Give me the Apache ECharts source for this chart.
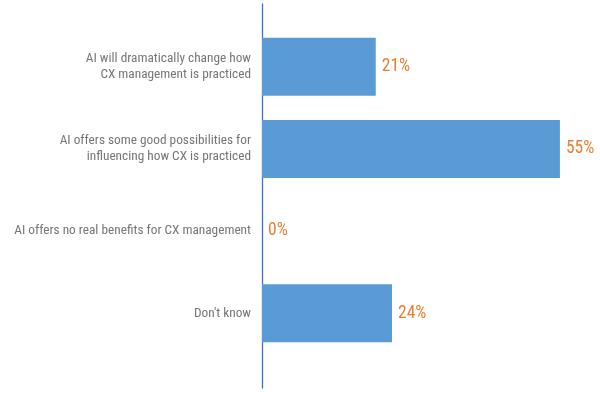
<!DOCTYPE html>
<html><head><meta charset="utf-8">
<script src="https://cdn.jsdelivr.net/npm/echarts@6/dist/echarts.min.js"></script>
<style>html,body{margin:0;padding:0;background:#fff}#c{width:600px;height:403px}</style>
</head><body><div id="c"></div>
<script>
const categories = [
  "AI will dramatically change how\nCX management is practiced",
  "AI offers some good possibilities for\ninfluencing how CX is practiced",
  "AI offers no real benefits for CX management",
  "Don't know"
];
const values = [21, 55, 0, 24];

const FONT = "'Roboto Condensed','Liberation Sans Narrow','DejaVu Sans Condensed',Roboto,sans-serif";
const chart = echarts.init(document.getElementById('c'), null, {renderer: 'canvas'});
chart.setOption({
  animation: false,
  backgroundColor: '#ffffff',
  grid: [
    {left: 262, right: 13, top: 25.6, height: 328.8, containLabel: false},
    {left: 262, right: 13, top: 4, bottom: 15, containLabel: false}
  ],
  xAxis: [
    {type: 'value', gridIndex: 0, min: 0, max: 60, show: false},
    {type: 'value', gridIndex: 1, min: 0, max: 1, show: false}
  ],
  yAxis: [
    {
      type: 'category', gridIndex: 0, data: categories, inverse: true,
      axisLine: {show: false}, axisTick: {show: false}, splitLine: {show: false},
      axisLabel: {
        margin: 11, color: '#767676', fontSize: 13.3, lineHeight: 16,
        fontFamily: FONT, align: 'right'
      }
    },
    {
      type: 'value', gridIndex: 1, min: 0, max: 1,
      axisLine: {show: true, onZero: false, lineStyle: {color: '#4472C4', width: 1.3}},
      axisTick: {show: false}, axisLabel: {show: false}, splitLine: {show: false}
    }
  ],
  series: [{
    type: 'bar', xAxisIndex: 0, yAxisIndex: 0,
    data: values, barWidth: 58,
    itemStyle: {color: '#5B9BD5'},
    label: {
      show: true, position: 'right', distance: 6,
      formatter: '{c}%', color: '#ED7D31', fontSize: 17.5, fontFamily: FONT
    }
  }]
});
</script>
</body></html>
